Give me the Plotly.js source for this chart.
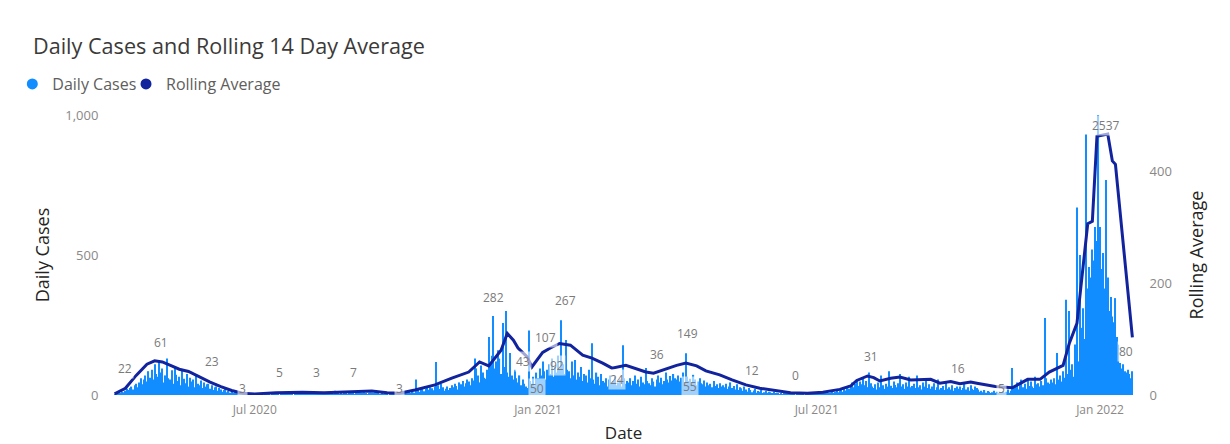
<!DOCTYPE html>
<html><head><meta charset="utf-8">
<script src="https://cdn.plot.ly/plotly-3.0.1.min.js"></script>
<style>html,body{margin:0;padding:0;background:#fff}#chart{width:1230px;height:444px}</style>
</head><body><div id="chart"></div>
<script>
// Daily cases, one value per day starting 2020-04-01
const cases2020Q2 = [3,5,2,8,6,12,10,15,22,18,25,30,20,35,40,28,45,60,38,55,70,48,85,62,90,55,110,75,65,120,
  80,95,45,70,130,60,55,88,40,100,72,50,65,35,90,58,42,75,30,62,48,55,28,70,40,35,52,25,45,30,38,
  40,22,35,18,28,30,15,25,20,12,18,22,10,15,8,12,6,10,5,8,3,6,4,2,5,3,1,4,2,3];
const cases2020Q3 = [2,0,4,1,3,5,0,2,1,3,0,6,2,1,4,3,0,2,5,1,3,12,2,4,1,0,3,5,2,4,1,
  3,5,2,6,4,1,8,3,5,2,4,6,1,3,7,2,5,4,3,6,2,15,4,5,3,7,2,4,6,3,5,
  6,4,8,3,7,5,9,4,6,10,5,3,7,8,4,6,9,5,7,3,2,4,1,3,2,0,3,1,2,4];
const cases2020Q4 = [2,5,3,8,4,6,10,7,12,5,15,9,8,55,20,11,18,25,13,22,30,19,28,24,17,30,118,35,22,40,28,
  15,22,30,18,25,35,28,40,32,20,45,38,50,30,42,55,48,35,60,52,130,95,70,45,105,80,62,58,90,207,
  110,140,282,95,120,160,130,75,257,100,300,80,65,150,70,55,90,60,45,70,35,55,40,30,25,230,50,40,65,35,80];
const cases2021Q1 = [60,95,70,120,85,55,90,110,75,130,65,100,80,140,95,267,110,75,196,90,85,60,120,70,125,55,80,65,100,50,75,
  70,45,90,60,185,55,40,80,65,35,75,50,45,60,30,55,70,40,50,65,35,45,55,30,178,60,40,50,
  45,60,35,50,70,40,55,30,65,45,38,96,50,42,35,60,48,30,55,70,45,62,38,50,80,55,45,68,52,75,60];
const cases2021Q2 = [55,70,48,62,80,45,149,65,50,58,40,72,55,35,48,60,42,38,52,30,45,35,40,28,50,32,38,25,42,30,
  35,28,40,22,30,45,25,32,20,38,18,28,24,15,30,20,12,25,18,10,16,22,8,14,12,18,6,10,15,8,12,
  10,6,12,4,8,5,3,7,2,6,4,9,1,3,5,2,0,4,1,3,6,2,0,1,5,2,3,8,4,2];
const cases2021Q3 = [3,8,2,5,10,4,7,12,6,9,15,8,11,18,10,14,20,12,25,16,30,22,35,45,28,40,55,32,48,38,60,
  35,50,28,80,42,30,25,38,20,45,28,70,35,22,40,30,85,33,25,48,36,28,42,75,30,38,22,45,30,65,28,
  32,40,25,70,28,35,20,45,30,60,25,38,22,30,42,18,28,55,20,25,32,18,45,22,28,20,35,15,25,30];
const cases2021Q4 = [22,30,18,25,40,20,28,15,35,22,18,30,25,20,12,15,10,18,8,14,12,6,10,15,8,12,5,10,7,14,9,
  12,20,8,15,96,25,30,45,20,35,55,28,40,22,60,32,48,30,25,65,38,42,30,50,35,275,60,45,40,55,
  45,60,38,150,55,70,48,85,62,340,75,300,90,110,65,180,670,120,500,240,310,200,930,380,457,420,520,480,600,550,2537];
const cases2022Q1 = [600,450,507,380,768,420,300,350,280,260,346,207,180,114,95,110,85,80,90,75,60,85];

// Rolling 14 day average, read at sample dates
const rollDates = ['2020-04-01','2020-04-08','2020-04-15','2020-04-22','2020-04-27','2020-05-02','2020-05-08','2020-05-13','2020-05-19','2020-05-26',
  '2020-06-02','2020-06-09','2020-06-16','2020-06-23','2020-07-01','2020-07-15','2020-08-01','2020-08-15','2020-09-01','2020-09-15',
  '2020-09-25','2020-10-03','2020-10-13','2020-10-26','2020-11-06','2020-11-17','2020-11-24','2020-11-30','2020-12-08','2020-12-12',
  '2020-12-16','2020-12-19','2020-12-25','2020-12-28','2021-01-04','2021-01-09','2021-01-15','2021-01-22','2021-01-30','2021-02-05',
  '2021-02-12','2021-02-18','2021-02-27','2021-03-05','2021-03-12','2021-03-17','2021-03-22','2021-04-01','2021-04-07','2021-04-14',
  '2021-04-20','2021-04-29','2021-05-07','2021-05-16','2021-05-25','2021-06-03','2021-06-14','2021-06-25','2021-07-05','2021-07-16',
  '2021-07-23','2021-07-27','2021-08-03','2021-08-07','2021-08-11','2021-08-18','2021-08-24','2021-08-31','2021-09-06','2021-09-13',
  '2021-09-19','2021-09-26','2021-10-02','2021-10-09','2021-10-13','2021-10-25','2021-11-05','2021-11-07','2021-11-15','2021-11-23',
  '2021-11-29','2021-12-08','2021-12-12','2021-12-17','2021-12-24','2021-12-27','2021-12-30','2022-01-06','2022-01-09','2022-01-11',
  '2022-01-14','2022-01-17','2022-01-22'];
const rollValues = [2,12,35,55,61,59,52,46,42,32,
  23,15,8,3,2,4,5,4,6,7,
  4,3,9,18,30,41,59,52,80,110,
  98,84,68,50,76,84,92,89,71,66,
  57,48,53,48,41,39,44,53,57,52,
  43,36,27,18,12,8,4,3,5,10,
  16,26,34,31,25,30,32,27,28,28,
  21,24,20,23,21,15,13,16,28,28,
  41,53,92,128,306,310,462,466,418,412,
  329,235,103];

// Axis tick labels
const xTickVals = ['2020-07-01','2021-01-01','2021-07-01','2022-01-01'];
const xTickText = ['Jul 2020','Jan 2021','Jul 2021','Jan 2022'];

// Data labels: date, text, vertical placement (Daily Cases units)
const labelDates = ['2020-04-08','2020-05-01','2020-06-03','2020-06-23','2020-07-17','2020-08-10','2020-09-03','2020-10-03',
  '2020-12-03','2020-12-22','2020-12-31','2021-01-06','2021-01-13','2021-01-19','2021-02-21','2021-03-19','2021-04-08','2021-04-10',
  '2021-05-20','2021-06-17','2021-08-05','2021-10-01','2021-10-29','2022-01-05','2022-01-18'];
const labelTexts = ['22','61','23','3','5','3','7','3','282','43','50','107','92','267','24','36','149','55','12','0','31','16','5','2537','80'];
const labelY = [96,186,118,25,79,79,79,25,350,118,25,207,104,339,54,143,221,32,89,71,136,96,25,964,154];

const dailyCases = [].concat(cases2020Q2, cases2020Q3, cases2020Q4, cases2021Q1, cases2021Q2, cases2021Q3, cases2021Q4, cases2022Q1);
const t0 = Date.UTC(2020, 3, 1);
const dates = dailyCases.map((_, i) => new Date(t0 + i * 86400000).toISOString().slice(0, 10));

const BAR = '#118DFF', LINE = '#12239E';
const FONT = 'Open Sans, sans-serif';

const traces = [
  {type: 'bar', x: dates, y: dailyCases, name: 'Daily Cases', legendgroup: 'd', showlegend: false,
   marker: {color: BAR, line: {width: 0}}, hoverinfo: 'x+y'},
  {type: 'scatter', mode: 'lines', x: rollDates, y: rollValues, yaxis: 'y2', name: 'Rolling Average',
   legendgroup: 'r', showlegend: false, line: {color: LINE, width: 3}},
  {type: 'scatter', mode: 'markers', x: [null], y: [null], name: 'Daily Cases', legendgroup: 'd', legend: 'legend',
   marker: {color: BAR, size: 11, symbol: 'circle'}},
  {type: 'scatter', mode: 'markers', x: [null], y: [null], name: 'Rolling Average', legendgroup: 'r', legend: 'legend2',
   marker: {color: LINE, size: 11, symbol: 'circle'}}
];

const annotations = labelTexts.map((t, i) => ({
  x: labelDates[i], y: labelY[i], xref: 'x', yref: 'y', text: t, showarrow: false,
  font: {family: FONT, size: 12, color: '#7a7a7a'}, bgcolor: 'rgba(255,255,255,0.6)',
  xanchor: 'center', yanchor: 'middle', borderpad: 1
}));

const legendBase = {orientation: 'h', xref: 'container', yref: 'container', y: 1 - 84 / 444,
  xanchor: 'left', yanchor: 'middle', font: {family: FONT, size: 16, color: '#605E5C'},
  itemwidth: 30, bgcolor: 'rgba(0,0,0,0)'};

const layout = {
  width: 1230, height: 444,
  margin: {l: 110, r: 93, t: 115, b: 49},
  paper_bgcolor: '#fff', plot_bgcolor: '#fff',
  font: {family: FONT, color: '#605E5C'},
  title: {text: 'Daily Cases and Rolling 14 Day Average', xref: 'container', yref: 'container',
    x: 33 / 1230, xanchor: 'left', y: 1 - 46 / 444, yanchor: 'middle',
    font: {family: FONT, size: 21.6, color: '#3b3a39'}},
  showlegend: true,
  legend: Object.assign({}, legendBase, {x: 0.010}),
  legend2: Object.assign({}, legendBase, {x: 126 / 1230}),
  bargap: 0.25,
  xaxis: {type: 'date', range: ['2020-03-29', '2022-01-25'], tickvals: xTickVals, ticktext: xTickText,
    showgrid: false, zeroline: false, showline: false, ticks: 'outside', ticklen: 4, tickcolor: 'rgba(0,0,0,0)',
    tickfont: {family: FONT, size: 12, color: '#8a8886'},
    title: {text: 'Date', standoff: 9, font: {family: FONT, size: 17, color: '#252423'}}},
  yaxis: {range: [0, 1000], dtick: 500, tickformat: ',d', showgrid: false, zeroline: false, showline: false,
    ticks: 'outside', ticklen: 8, tickcolor: 'rgba(0,0,0,0)',
    tickfont: {family: FONT, size: 13, color: '#8a8886'},
    title: {text: 'Daily Cases', standoff: 10, font: {family: FONT, size: 18, color: '#252423'}}},
  yaxis2: {overlaying: 'y', side: 'right', range: [0, 500], dtick: 200, showgrid: false, zeroline: false, showline: false,
    ticks: 'outside', ticklen: 9, tickcolor: 'rgba(0,0,0,0)',
    tickfont: {family: FONT, size: 13, color: '#8a8886'},
    title: {text: 'Rolling Average', standoff: 19, font: {family: FONT, size: 18, color: '#252423'}}},
  annotations: annotations
};

Plotly.newPlot('chart', traces, layout, {displayModeBar: false, staticPlot: false});
</script>
</body></html>
